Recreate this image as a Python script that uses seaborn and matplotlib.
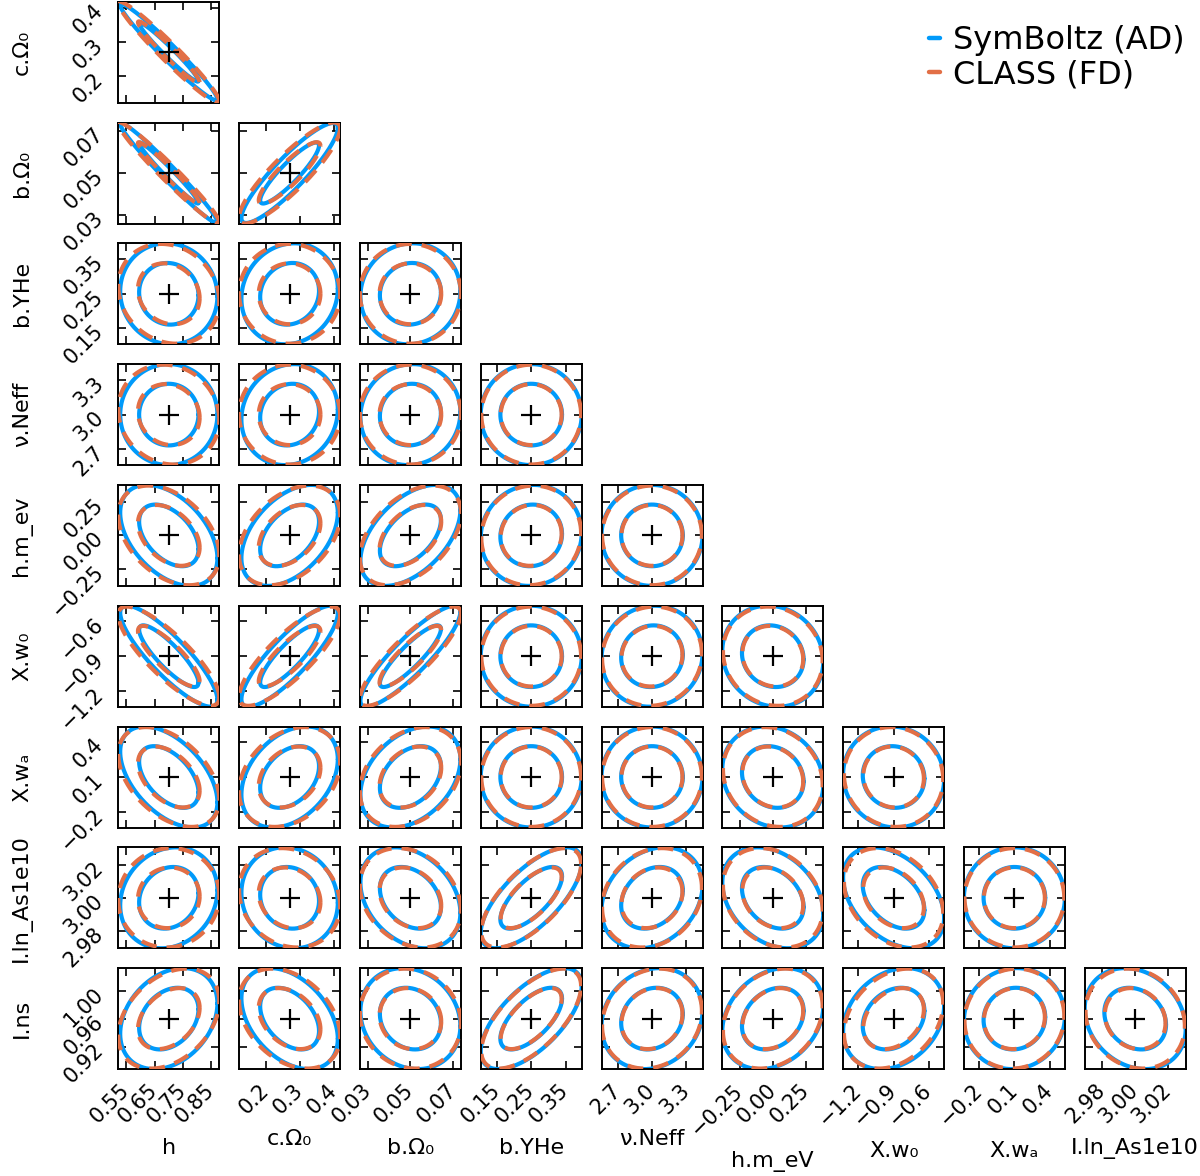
import numpy as np
import matplotlib
matplotlib.use('Agg')
import matplotlib.pyplot as plt
from matplotlib.lines import Line2D
import seaborn as sns

# Fisher forecast parameters (plotting order)
col_labels = ['h', 'c.Ω₀', 'b.Ω₀', 'b.YHe', 'ν.Neff', 'h.m_eV', 'X.w₀', 'X.wₐ', 'I.ln_As1e10', 'I.ns']
row_labels = ['h', 'c.Ω₀', 'b.Ω₀', 'b.YHe', 'ν.Neff', 'h.m_ev', 'X.w₀', 'X.wₐ', 'I.ln_As1e10', 'I.ns']
fiducial = [0.70, 0.27, 0.05, 0.25, 3.0, 0.0, -0.9, 0.1, 3.0, 0.96]

# marginalised 1-sigma errors
sigma_ad = [0.0690, 0.0565, 0.0095, 0.0592, 0.177, 0.153, 0.173, 0.173, 0.0123, 0.0290]
sigma_fd = [0.0717, 0.0592, 0.0096, 0.0585, 0.175, 0.151, 0.170, 0.171, 0.0121, 0.0287]

# correlation coefficients, row i against params 0..i-1
rho_ad = [
    [],
    [-0.975],
    [-0.98, 0.90],
    [-0.05, 0.10, 0.05],
    [0.00, 0.10, 0.05, 0.00],
    [-0.45, 0.45, 0.50, 0.05, 0.00],
    [-0.86, 0.85, 0.88, 0.00, 0.05, -0.10],
    [-0.50, 0.35, 0.35, 0.00, 0.00, -0.15, -0.05],
    [0.15, -0.10, -0.30, 0.70, 0.25, -0.30, -0.40, 0.00],
    [0.30, -0.40, -0.15, 0.65, 0.15, 0.25, 0.25, 0.05, -0.20],
]
rho_fd = [
    [],
    [-0.97],
    [-0.975, 0.88],
    [-0.15, 0.00, 0.00],
    [-0.10, 0.00, 0.00, 0.00],
    [-0.40, 0.40, 0.45, 0.05, 0.00],
    [-0.83, 0.82, 0.86, 0.00, 0.05, -0.10],
    [-0.45, 0.30, 0.30, 0.00, 0.00, -0.15, -0.05],
    [0.05, -0.15, -0.25, 0.68, 0.20, -0.25, -0.32, 0.00],
    [0.35, -0.35, -0.10, 0.65, 0.15, 0.25, 0.30, 0.05, -0.15],
]

ticks = [
    [0.55, 0.65, 0.75, 0.85],
    [0.2, 0.3, 0.4],
    [0.03, 0.05, 0.07],
    [0.15, 0.25, 0.35],
    [2.7, 3.0, 3.3],
    [-0.25, 0.0, 0.25],
    [-1.2, -0.9, -0.6],
    [-0.2, 0.1, 0.4],
    [2.98, 3.00, 3.02],
    [0.92, 0.96, 1.00],
]
tick_labels = [
    ['0.55', '0.65', '0.75', '0.85'],
    ['0.2', '0.3', '0.4'],
    ['0.03', '0.05', '0.07'],
    ['0.15', '0.25', '0.35'],
    ['2.7', '3.0', '3.3'],
    ['−0.25', '0.00', '0.25'],
    ['−1.2', '−0.9', '−0.6'],
    ['−0.2', '0.1', '0.4'],
    ['2.98', '3.00', '3.02'],
    ['0.92', '0.96', '1.00'],
]

methods = ['SymBoltz (AD)', 'CLASS (FD)']
colors = ['#009AFA', '#E26F46']

# 2D 68% and 95% contours
levels = [np.sqrt(2.30), np.sqrt(6.17)]

sns.set_style('ticks', {'axes.edgecolor': 'black', 'text.color': 'black',
                        'axes.labelcolor': 'black', 'xtick.color': 'black',
                        'ytick.color': 'black'})
plt.rcParams['font.family'] = ['DejaVu Sans']
plt.rcParams['axes.linewidth'] = 1.4

W, H = 1200, 1176
LEFT0, TOP0, STEP, SIZE = 118.3, 1.7, 120.8, 101.0
YLABEL_X = 32.0  # right edge of the row labels, in pixels
n = len(col_labels)

fig = plt.figure(figsize=(12, 11.76), dpi=100)
t = np.linspace(0, 2 * np.pi, 300)


def ellipse(i, j, sig, rho, k):
    sx, sy = sig[j], sig[i]
    x = fiducial[j] + k * sx * np.cos(t)
    y = fiducial[i] + k * sy * (rho * np.cos(t) + np.sqrt(1 - rho ** 2) * np.sin(t))
    return x, y


for i in range(1, n):
    for j in range(i):
        left = (LEFT0 + STEP * j) / W
        bottom = 1 - (TOP0 + STEP * (i - 1) + SIZE) / H
        ax = fig.add_axes([left, bottom, SIZE / W, SIZE / H])

        for m, (sig, rho) in enumerate([(sigma_ad, rho_ad), (sigma_fd, rho_fd)]):
            for k in levels:
                x, y = ellipse(i, j, sig, rho[i][j], k)
                if m == 0:
                    sns.lineplot(x=x, y=y, sort=False, estimator=None, ax=ax,
                                 color=colors[m], lw=3.0, zorder=2)
                else:
                    sns.lineplot(x=x, y=y, sort=False, estimator=None, ax=ax,
                                 color=colors[m], lw=3.0, zorder=3,
                                 linestyle=(0, (3.8, 2.4)))
        ax.plot([fiducial[j]], [fiducial[i]], marker='+', color='black',
                markersize=15, mew=1.6, zorder=4)

        hx = levels[1] * max(sigma_ad[j], sigma_fd[j])
        hy = levels[1] * max(sigma_ad[i], sigma_fd[i])
        ax.set_xlim(fiducial[j] - hx, fiducial[j] + hx)
        ax.set_ylim(fiducial[i] - hy, fiducial[i] + hy)

        ax.set_xticks(ticks[j], tick_labels[j])
        ax.set_yticks(ticks[i], tick_labels[i])
        ax.tick_params(direction='in', length=6, width=1.2, top=True, right=True,
                       labelsize=15, pad=13, colors='black',
                       labelleft=(j == 0), labelbottom=(i == n - 1))
        for lab in ax.get_xticklabels() + ax.get_yticklabels():
            lab.set_rotation(45)
            lab.set_ha('right')
            lab.set_va('center')
            lab.set_rotation_mode('anchor')

        if i == n - 1:
            ax.set_xlabel(col_labels[j], fontsize=16, labelpad=8)
        if j == 0:
            ax.set_ylabel(row_labels[i], fontsize=16)
            ax.yaxis.set_label_coords((YLABEL_X - LEFT0) / SIZE, 0.5)
        for s in ax.spines.values():
            s.set_visible(True)
            s.set_color('black')

handles = [Line2D([0], [0], color=c, lw=3.2, solid_capstyle='round') for c in colors]
fig.legend(handles, methods, loc='upper left', bbox_to_anchor=(929 / W, 1 - 25 / H),
           frameon=False, borderpad=0, borderaxespad=0, handlelength=0.35,
           handletextpad=0.4, labelspacing=0.1, fontsize=23)

fig.savefig('out.png', dpi=100)
